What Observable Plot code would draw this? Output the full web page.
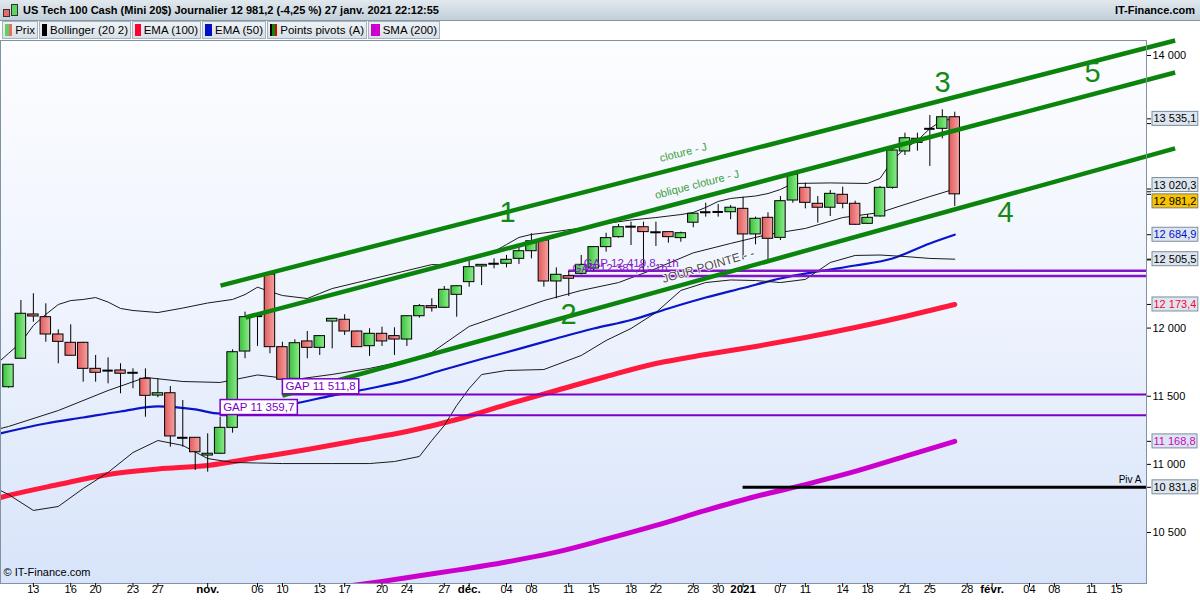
<!DOCTYPE html>
<html><head><meta charset="utf-8">
<script src="https://cdn.jsdelivr.net/npm/d3@7"></script>
<script src="https://cdn.jsdelivr.net/npm/@observablehq/plot@0.6"></script>
<style>
body{margin:0;width:1200px;height:600px;overflow:hidden;background:#fff;font-family:"Liberation Sans",Arial,sans-serif}
#title{height:21px;box-sizing:border-box;background:linear-gradient(#e2e9ee,#c2cfd9);border-bottom:1px solid #8796a3;position:relative;font-weight:bold;font-size:11px;color:#000}
#title .ico{position:absolute;left:3px;top:3px;width:16px;height:15px}
#title .ico i{position:absolute;display:block;border:1px solid #333}
#title .tt{position:absolute;left:23px;top:4px;white-space:nowrap}
#title .brand{position:absolute;right:5px;top:4px}
#legend{height:18px;display:flex;padding-left:2px;box-sizing:border-box}
.it{display:flex;align-items:center;height:18px;box-sizing:border-box;border:1px solid #a6b3be;background:linear-gradient(#eef2f5,#d8e0e7);margin-right:1px;padding:0 2px;font-size:11.5px;white-space:nowrap}
.sw{width:10px;height:12px;margin-right:3px;display:flex}
.sw span{flex:1}
#chart{height:561px}
</style></head><body>
<div id="title"><span class="ico"><i style="left:0;top:6px;width:5px;height:6px;background:#e76b6b"></i><i style="left:8px;top:1px;width:5px;height:10px;background:#5fd35f"></i></span><span class="tt" id="tt"></span><span class="brand">IT-Finance.com</span></div>
<div id="legend"></div>
<div id="chart"></div>
<script>
// ---------- DATA ----------
const titleText = "US Tech 100 Cash (Mini 20$) Journalier 12 981,2 (-4,25 %) 27 janv. 2021 22:12:55";
const legendNames = ["Prix","Bollinger (20 2)","EMA (100)","EMA (50)","Points pivots (A)","SMA (200)"];
const legendSwatches = [["#5fd35f","#e76b6b"],["#000000"],["#ff0033"],["#0010c8"],["#000000","#0a8a0a","#e00000"],["#cc00cc"]];
const legendWidths = [36,92,69,64,100,72];

const candleDates = ["2020-10-09","2020-10-12","2020-10-13","2020-10-14","2020-10-15","2020-10-16","2020-10-19","2020-10-20","2020-10-21","2020-10-22","2020-10-23","2020-10-26","2020-10-27","2020-10-28","2020-10-29","2020-10-30",
"2020-11-02","2020-11-03","2020-11-04","2020-11-05","2020-11-06","2020-11-09","2020-11-10","2020-11-11","2020-11-12","2020-11-13","2020-11-16","2020-11-17","2020-11-18","2020-11-19","2020-11-20","2020-11-23","2020-11-24","2020-11-25","2020-11-26","2020-11-27","2020-11-30",
"2020-12-01","2020-12-02","2020-12-03","2020-12-04","2020-12-07","2020-12-08","2020-12-09","2020-12-10","2020-12-11","2020-12-14","2020-12-15","2020-12-16","2020-12-17","2020-12-18","2020-12-21","2020-12-22","2020-12-23","2020-12-24","2020-12-28","2020-12-29","2020-12-30","2020-12-31",
"2021-01-04","2021-01-05","2021-01-06","2021-01-07","2021-01-08","2021-01-11","2021-01-12","2021-01-13","2021-01-14","2021-01-15","2021-01-18","2021-01-19","2021-01-20","2021-01-21","2021-01-22","2021-01-25","2021-01-26","2021-01-27"];
const candleOpen = [11566,11775,12100,12080,11953,11892,11892,11701,11692,11689,
11676,11628,11505,11522,11200,11195,11065,11078,11268,11828,
12095,12393,11860,11628,11902,11855,12048,12061,11975,11867,
11958,11941,11916,12087,12161,12149,12244,12337,12452,12474,
12472,12508,12564,12643,12342,12381,12398,12437,12594,12667,
12746,12740,12706,12704,12660,12773,12852,12850,12850,12875,
12687,12809,12662,12936,13029,12912,12883,12978,12912,12765,
12819,13029,13296,13389,13464,13462,13547];
const candleHigh = [11733,12202,12252,12178,11987,12024,11895,11799,11782,11738,
11701,11701,11628,11571,11469,11197,11224,11346,11841,12117,
12105,12408,11896,11914,11975,11945,12070,12098,11978,11995,
12007,12002,12090,12173,12215,12305,12309,12508,12466,12508,
12533,12594,12692,12645,12442,12415,12533,12597,12696,12760,
12777,12777,12777,12706,12704,12841,12916,12907,12899,12960,
12814,12846,12965,13132,13063,12965,13010,13034,12931,12833,
13039,13332,13430,13430,13560,13602,13584];
const candleLow = [11559,11770,12043,11896,11738,11795,11603,11603,11591,11518,
11555,11346,11489,11126,11126,10955,10943,11075,11229,11775,
11865,11811,11600,11620,11775,11799,11848,11946,11857,11792,
11865,11799,11865,12073,12117,12147,12080,12300,12312,12435,
12442,12467,12508,12300,12215,12232,12390,12420,12557,12660,
12606,12410,12599,12623,12630,12736,12814,12814,12795,12501,
12611,12480,12643,12916,12875,12770,12819,12875,12753,12760,
12814,13019,13266,13298,13186,13389,12892];
const candleClose = [11731,12105,12085,11953,11899,11797,11701,11672,11688,11665,
11672,11503,11522,11205,11195,11089,11078,11268,11823,12080,
12088,11860,11621,11889,11855,11941,12068,11975,11860,11958,
11902,11916,12087,12161,12146,12281,12307,12447,12464,12472,
12501,12564,12637,12342,12391,12362,12464,12594,12660,12740,
12744,12704,12703,12667,12696,12839,12850,12852,12883,12687,
12802,12655,12931,13125,12919,12883,12985,12912,12758,12809,
13029,13303,13393,13359,13462,13547,12981.2];

// indicator readings (index -0.64 = left edge of the chart)
const bbUpIdx = [-0.64,0,1,2,3,4,5,6,7,8,9,10,12,14,16,18,19,20,21,22,24,25,26,28,30,32,34,35,36,37,38,39,40,41,42,44,46,48,50,52,54,55,56,57,58,60,61,62,63,66,69,70,71,72,73,74,75,76];
const bbUpVal = [11762,11814,11894,12019,12100,12173,12202,12210,12224,12191,12144,12129,12114,12147,12184,12210,12246,12300,12268,12239,12217,12254,12290,12334,12378,12422,12466,12463,12474,12503,12525,12562,12613,12665,12687,12709,12734,12767,12793,12811,12833,12848,12885,12929,12951,12969,12987,13017,13061,13065,13061,13098,13230,13318,13376,13464,13523,13535.1];
const bbMidIdx = [-0.64,0,4,8,11,14,17,20,23,26,29,32,34,37,40,43,46,49,52,55,58,61,64,67,70,72,74,76];
const bbMidVal = [11263,11278,11395,11542,11638,11608,11601,11656,11623,11660,11704,11762,11821,12012,12107,12202,12276,12334,12437,12552,12621,12687,12731,12811,12848,12907,12965,13020.3];
const bbLowIdx = [-0.64,0,2,4,6,8,10,12,14,16,18,20,22,26,29,31,33,34,35,36,37,38,40,43,46,48,50,52,54,56,58,60,62,64,66,68,70,72,74,76];
const bbLowVal = [10808,10779,10662,10691,10823,10941,11087,11175,11139,11043,11014,11010,11006,11006,11006,11021,11058,11175,11285,11432,11557,11659,11689,11696,11799,11909,11997,12114,12276,12334,12353,12349,12334,12357,12481,12533,12536,12525,12511,12505.5];
const ema50Idx = [-0.64,0,3,6,9,12,15,17,20,23,26,29,32,35,38,41,44,47,50,53,56,59,62,65,68,71,74,76];
const ema50Val = [11227,11241,11300,11344,11388,11425,11403,11373,11403,11447,11505,11557,11616,11696,11773,11847,11924,11997,12059,12144,12224,12294,12364,12415,12459,12511,12621,12684.9];
const ema100Idx = [-0.64,0,4,8,12,16,20,24,28,32,36,40,44,48,52,56,60,64,68,72,76];
const ema100Val = [10757,10772,10852,10926,10966,10992,11050,11109,11175,11241,11329,11439,11542,11645,11740,11806,11865,11931,12004,12085,12173.4];
const sma200Idx = [27,30,33,36,40,44,48,52,56,60,64,68,72,76];
const sma200Val = [10104,10141,10183,10224,10284,10356,10451,10552,10662,10764,10852,10948,11058,11168.8];

const trendStartIdx = [17.03,19.04,22.0];
const trendStartVal = [12312,12078,11505];
const trendEndIdx = [93.7,93.7,93.7];
const trendEndVal = [14110,13875,13318];

const numLabels = ["1","2","3","4","5"];
const numIdx = [40.08,44.98,75.02,80.08,87.07];
const numVal = [12848,12100,13802,12848,13875];

const noteTexts = ["cloture - J","oblique cloture - J"];
const noteIdx = [54.2,55.3];
const noteVal = [13288,13053];
const jourText = "JOUR POINTE - -";
const jourIdx = 56.2, jourVal = 12455;

const gapBoxVal = [11511.8,11359.7];
const gapBoxStart = [22,17];
const gap1hVal = [12419.8,12381.8];
const gap1hStart = [45,45];
const gap1hTextIdx = [46.2,45.3];

const pivotVal = 10831.8, pivotStart = 59, pivotLabel = "Piv A";

const yTicks = [10500,11000,11500,12000,12500,13000,13500,14000];
const yHidden = [12500,13000,13500];
const boxVals = [13535.1,12684.9,12505.5,12173.4,11168.8,10831.8];
const boxColors = ["#000000","#0010c8","#000000","#ff0033","#cc00cc","#000000"];
const boxMidVal = 13020.3, lastVal = 12981.2;

const tickIdx = [2,5,7,10,12,16,20,22,25,27,30,32,35,37,40,42,45,47,50,52,55,57,59,62,64,67,69,72,74,77,79,82,84,87,89];
const tickLabel = ["13","16","20","23","27","nov.","06","10","13","17","20","24","27","déc.","04","08","11","15","18","22","28","30","2021","07","11","14","18","21","25","28","févr.","04","08","11","15"];
const tickBold = ["nov.","déc.","2021","févr."];

// ---------- HEADER ----------
document.getElementById("tt").textContent = titleText;
const lg = document.getElementById("legend");
legendNames.forEach((n,k)=>{
  const it=document.createElement("div"); it.className="it"; it.style.width=legendWidths[k]+"px";
  const sw=document.createElement("div"); sw.className="sw";
  legendSwatches[k].forEach(c=>{const s=document.createElement("span"); s.style.background=c; sw.appendChild(s);});
  it.appendChild(sw); const t=document.createElement("span"); t.textContent=n; it.appendChild(t); lg.appendChild(it);
});

// ---------- CHART ----------
const loc = d3.formatLocale({decimal:",", thousands:" ", grouping:[3], currency:["",""]});
const fmt0 = loc.format(",.0f"), fmt1 = loc.format(",.1f");
const xMin=-0.64, xMax=91.4, yMin=10126, yMax=14110;

const candles = candleDates.map((d,i)=>({i, date:d, o:candleOpen[i], h:candleHigh[i], l:candleLow[i], c:candleClose[i]}));
const up = candles.filter(d=>d.c-d.o>8), down = candles.filter(d=>d.o-d.c>8), doji = candles.filter(d=>Math.abs(d.c-d.o)<=8);
const pts = (idx,vals)=>idx.map((i,k)=>({i,v:vals[k]}));
const trends = trendStartIdx.map((s,k)=>({i1:s,v1:trendStartVal[k],i2:trendEndIdx[k],v2:trendEndVal[k]}));
const nums = numLabels.map((t,k)=>({t,i:numIdx[k],v:numVal[k]}));
const notes = noteTexts.map((t,k)=>({t,i:noteIdx[k],v:noteVal[k]}));
const gapBoxes = gapBoxVal.map((v,k)=>({v,s:gapBoxStart[k],t:"GAP "+fmt1(v)}));
const gap1h = gap1hVal.map((v,k)=>({v,s:gap1hStart[k],ti:gap1hTextIdx[k],t:"GAP "+fmt1(v)+" - 1h"}));
const boxes = boxVals.map((v,k)=>({v,c:boxColors[k],t:fmt1(v)}));
const ticks = tickIdx.map((i,k)=>({i,t:tickLabel[k]}));
const hw = 0.42;

const chart = Plot.plot({
  width:1200, height:561, marginTop:1, marginBottom:17, marginLeft:0, marginRight:54,
  x:{domain:[xMin,xMax], axis:null}, y:{domain:[yMin,yMax], axis:null},
  style:{fontFamily:'"Liberation Sans",Arial,sans-serif', fontSize:"11px", background:"transparent", overflow:"visible", color:"#000"},
  marks:[
    Plot.frame({fill:"url(#bgGrad)", stroke:null}),
    Plot.line(pts(sma200Idx,sma200Val),{x:"i",y:"v",stroke:"#cc00cc",strokeWidth:5,clip:true,curve:"monotone-x"}),
    Plot.line(pts(ema100Idx,ema100Val),{x:"i",y:"v",stroke:"#ff1a3d",strokeWidth:5,clip:true,curve:"monotone-x"}),
    Plot.line(pts(ema50Idx,ema50Val),{x:"i",y:"v",stroke:"#0a14c8",strokeWidth:2.2,clip:true,curve:"monotone-x"}),
    Plot.line(pts(bbUpIdx,bbUpVal),{x:"i",y:"v",stroke:"#1a1a1a",strokeWidth:1}),
    Plot.line(pts(bbMidIdx,bbMidVal),{x:"i",y:"v",stroke:"#1a1a1a",strokeWidth:1}),
    Plot.line(pts(bbLowIdx,bbLowVal),{x:"i",y:"v",stroke:"#1a1a1a",strokeWidth:1}),
    Plot.ruleY(gapBoxes,{y:"v",x1:"s",x2:xMax,stroke:"#7a00c8",strokeWidth:2}),
    Plot.ruleY(gap1h,{y:"v",x1:"s",x2:xMax,stroke:"#8414c8",strokeWidth:2.5}),
    Plot.ruleY([pivotVal],{y:d=>d,x1:pivotStart,x2:xMax,stroke:"#000",strokeWidth:3}),
    Plot.ruleX(candles,{x:"i",y1:"l",y2:"h",stroke:"#000",strokeWidth:1}),
    Plot.rect(up,{x1:d=>d.i-hw,x2:d=>d.i+hw,y1:"o",y2:"c",fill:"url(#gUp)",stroke:"#000",strokeWidth:1}),
    Plot.rect(down,{x1:d=>d.i-hw,x2:d=>d.i+hw,y1:"o",y2:"c",fill:"url(#gDown)",stroke:"#000",strokeWidth:1}),
    Plot.ruleY(doji,{y:"c",x1:d=>d.i-hw,x2:d=>d.i+hw,stroke:"#000",strokeWidth:2}),
    Plot.link(trends,{x1:"i1",y1:"v1",x2:"i2",y2:"v2",stroke:"#0b840b",strokeWidth:4.5}),
    Plot.text(nums,{x:"i",y:"v",text:"t",fontSize:29,fill:"#138a13"}),
    Plot.text(notes,{x:"i",y:"v",text:"t",fontSize:11,fill:"#3a9e3a",rotate:-14.6}),
    Plot.text([jourText],{x:jourIdx,y:jourVal,text:d=>d,fontSize:12,fill:"#4a4a4a",stroke:"#ffffff",strokeWidth:1.5,rotate:-16}),
    Plot.text(gap1h,{x:"ti",y:"v",text:"t",textAnchor:"start",dy:-8,fontSize:11.5,fill:"#8420c8"}),
    Plot.text(gapBoxes,{x:"s",y:"v",text:"t",textAnchor:"start",dx:3,dy:-8,fontSize:11.5,fill:"#7a00c8"}),
    Plot.text([pivotLabel],{x:xMax,y:pivotVal,text:d=>d,textAnchor:"end",dx:-5,dy:-8,fontSize:10,fill:"#000"}),
    Plot.text(["© IT-Finance.com"],{frameAnchor:"bottom-left",text:d=>d,textAnchor:"start",dx:3,dy:-8,fontSize:11,fill:"#000"}),
    Plot.frame({stroke:"#8193a0"}),
    Plot.axisY({anchor:"right",ticks:[...yTicks,...boxVals,boxMidVal,lastVal],tickSize:4,tickPadding:2,label:null,fontSize:11,
      tickFormat:d=>(yTicks.includes(d)&&!yHidden.includes(d))?fmt0(d):""}),
    Plot.text(boxes,{y:"v",text:"t",frameAnchor:"right",textAnchor:"start",dx:7,fill:"c",fontSize:11}),
    Plot.text([boxMidVal],{y:d=>d,text:d=>fmt1(d),frameAnchor:"right",textAnchor:"start",dx:7,dy:-4,fill:"#000",fontSize:11}),
    Plot.text([lastVal],{y:d=>d,text:d=>fmt1(d),frameAnchor:"right",textAnchor:"start",dx:7,dy:7,fill:"#000",fontSize:11}),
    Plot.axisX({ticks:tickIdx,tickSize:4,tickFormat:()=>"",label:null}),
    Plot.text(ticks.filter(d=>!tickBold.includes(d.t)),{x:"i",text:"t",frameAnchor:"bottom",dy:9,fontSize:11,fill:"#000"}),
    Plot.text(ticks.filter(d=>tickBold.includes(d.t)),{x:"i",text:"t",frameAnchor:"bottom",dy:9,fontSize:11.5,fontWeight:"bold",fill:"#000"})
  ]
});
document.getElementById("chart").appendChild(chart);

// gradients
const NS="http://www.w3.org/2000/svg";
const defs=document.createElementNS(NS,"defs");
defs.innerHTML = `
<linearGradient id="bgGrad" x1="0" y1="0" x2="0" y2="1"><stop offset="0" stop-color="#fcfdff"/><stop offset="0.5" stop-color="#eef3fd"/><stop offset="1" stop-color="#d8e4fa"/></linearGradient>
<linearGradient id="gUp" x1="0" y1="0" x2="1" y2="0"><stop offset="0" stop-color="#3cc13c"/><stop offset="1" stop-color="#8cec8c"/></linearGradient>
<linearGradient id="gDown" x1="0" y1="0" x2="1" y2="0"><stop offset="0" stop-color="#e25c5c"/><stop offset="1" stop-color="#f4a2a2"/></linearGradient>`;
chart.insertBefore(defs, chart.firstChild);

// boxes behind labels, found by their text
const boxStyle = new Map();
gapBoxes.forEach(d=>boxStyle.set(d.t,{fill:"#ffffff",stroke:"#7a00c8",sw:1.5,px:3,py:1.5}));
boxes.forEach(d=>boxStyle.set(d.t,{fill:"#dde6f0",stroke:"#7d8e9c",sw:1,px:1.5,py:1}));
boxStyle.set(fmt1(boxMidVal),{fill:"#dde6f0",stroke:"#7d8e9c",sw:1,px:1.5,py:1});
boxStyle.set(fmt1(lastVal),{fill:"#f8c400",stroke:"#7d7d7d",sw:1,px:1.5,py:1});
chart.querySelectorAll("text").forEach(t=>{
  const st=boxStyle.get(t.textContent); if(!st) return;
  const b=t.getBBox();
  const r=document.createElementNS(NS,"rect");
  r.setAttribute("x",b.x-st.px); r.setAttribute("y",b.y-st.py);
  r.setAttribute("width",b.width+2*st.px); r.setAttribute("height",b.height+2*st.py);
  r.setAttribute("fill",st.fill); r.setAttribute("stroke",st.stroke); r.setAttribute("stroke-width",st.sw);
  const tr=t.getAttribute("transform"); if(tr) r.setAttribute("transform",tr);
  t.parentNode.insertBefore(r,t);
});
</script>
</body></html>
